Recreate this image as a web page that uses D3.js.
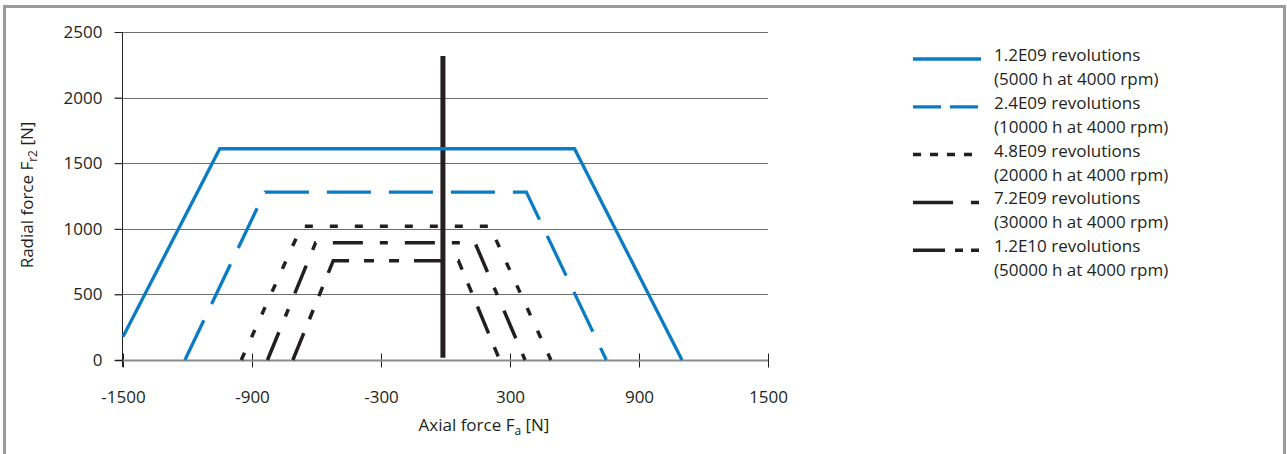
<!DOCTYPE html>
<html><head><meta charset="utf-8">
<script src="https://cdn.jsdelivr.net/npm/d3@7"></script>
<style>
html,body{margin:0;padding:0;background:#fff;}
svg{display:block;}
text{font-family:"Open Sans",sans-serif;fill:#231f20;}
</style></head>
<body>
<svg id="chart" width="1287" height="454"></svg>
<script>
// ---- data ----
const xTicks = [-1500, -900, -300, 300, 900, 1500];
const yTicks = [0, 500, 1000, 1500, 2000, 2500];
const seriesNames = ["1.2E09 revolutions", "2.4E09 revolutions", "4.8E09 revolutions", "7.2E09 revolutions", "1.2E10 revolutions"];
const seriesNotes = ["(5000 h at 4000 rpm)", "(10000 h at 4000 rpm)", "(20000 h at 4000 rpm)", "(30000 h at 4000 rpm)", "(50000 h at 4000 rpm)"];
const s1x = [-1500, -1050, 600, 1100];   const s1y = [178, 1610, 1610, 0];
const s2x = [-1212, -840, 376, 748];     const s2y = [0, 1280, 1280, 0];
const s3x = [-950, -669, 206, 490];      const s3y = [0, 1020, 1020, 0];
const s4x = [-828, -604, 137, 370];      const s4y = [0, 894, 894, 0];
const s5x = [-710, -522, 60, 252];       const s5y = [0, 757, 757, 0];
const markX = [-12, -12];                const markY = [18, 2317];

// ---- styles ----
const BLUE = "#0a7cc3", DARK = "#231f20";
const styles = [
  {color: BLUE, width: 3.3, dash: null,                 legendDash: null},
  {color: BLUE, width: 3.3, dash: "44,18",              legendDash: "28,9"},
  {color: DARK, width: 3.5, dash: "8,17",               legendDash: "8,9"},
  {color: DARK, width: 3.5, dash: "30,17,8,17",         legendDash: "40,18,8,18"},
  {color: DARK, width: 3.5, dash: "29,15,10,15,10,15",  legendDash: "32,10,8,8,8,8"}
];
const series = [[s1x,s1y],[s2x,s2y],[s3x,s3y],[s4x,s4y],[s5x,s5y]];
const FS = 17;

const svg = d3.select("#chart");
const x = d3.scaleLinear().domain([-1500, 1500]).range([123, 768]);
const y = d3.scaleLinear().domain([0, 2500]).range([360, 32]);

// frame
svg.append("rect").attr("x", 4.5).attr("y", 6.5).attr("width", 1280).attr("height", 460)
  .attr("fill", "none").attr("stroke", "#9a9b9d").attr("stroke-width", 3);

// gridlines
svg.append("g").selectAll("line").data(yTicks.filter(d => d > 0)).join("line")
  .attr("x1", 115).attr("x2", 768)
  .attr("y1", d => Math.round(y(d)) + 0.5).attr("y2", d => Math.round(y(d)) + 0.5)
  .attr("stroke", "#6d6e70").attr("stroke-width", 1);

// x axis
const xAxis = d3.axisBottom(x).tickValues(xTicks).tickSize(7).tickPadding(23).tickSizeOuter(0)
  .tickFormat(d => String(d));
const gx = svg.append("g").attr("transform", "translate(0,360.5)").call(xAxis);
gx.select(".domain").remove();
gx.append("line").attr("x1", 115).attr("x2", 768).attr("y1", 0).attr("y2", 0).attr("stroke", "#8a8b8d").attr("stroke-width", 2);
gx.selectAll(".tick line").attr("y1", -7).attr("stroke", DARK);
gx.selectAll(".tick text").attr("font-size", FS).attr("font-family", "Open Sans").attr("fill", DARK);

// y axis
const yAxis = d3.axisLeft(y).tickValues(yTicks).tickSize(8).tickPadding(12).tickSizeOuter(0)
  .tickFormat(d => String(d));
const gy = svg.append("g").attr("transform", "translate(122.5,0)").call(yAxis);
gy.select(".domain").remove();
gy.append("line").attr("x1", 0).attr("x2", 0).attr("y1", 32).attr("y2", 367).attr("stroke", DARK);
gy.selectAll(".tick line").attr("stroke", DARK);
gy.selectAll(".tick text").attr("font-size", FS).attr("font-family", "Open Sans").attr("fill", DARK);

// axis titles
const xt = svg.append("text").attr("x", 484).attr("y", 431).attr("text-anchor", "middle").attr("font-size", FS);
xt.append("tspan").text("Axial force F");
xt.append("tspan").attr("font-size", 12).attr("dy", 4).text("a");
xt.append("tspan").attr("dy", -4).text(" [N]");

const yt = svg.append("text").attr("transform", "translate(33,195) rotate(-90)").attr("text-anchor", "middle").attr("font-size", FS);
yt.append("tspan").text("Radial force F");
yt.append("tspan").attr("font-size", 12).attr("dy", 4).text("r2");
yt.append("tspan").attr("dy", -4).text(" [N]");

// vertical marker
const line = d3.line().x(d => x(d[0])).y(d => y(d[1]));
svg.append("path").attr("d", line(d3.zip(markX, markY)))
  .attr("fill", "none").attr("stroke", DARK).attr("stroke-width", 5);

// series
series.forEach((s, i) => {
  const st = styles[i];
  svg.append("path").attr("d", line(d3.zip(s[0], s[1])))
    .attr("fill", "none").attr("stroke", st.color).attr("stroke-width", st.width)
    .attr("stroke-dasharray", st.dash).attr("stroke-linejoin", "miter");
});

// legend
const lg = svg.append("g");
seriesNames.forEach((name, i) => {
  const st = styles[i];
  const cy = 59 + i * 47.8;
  lg.append("line").attr("x1", 913).attr("x2", 981).attr("y1", cy).attr("y2", cy)
    .attr("stroke", st.color).attr("stroke-width", st.width).attr("stroke-dasharray", st.legendDash);
  lg.append("text").attr("x", 994).attr("y", cy + 2).attr("font-size", FS).text(name);
  lg.append("text").attr("x", 994).attr("y", cy + 26).attr("font-size", FS).text(seriesNotes[i]);
});
</script>
</body></html>
